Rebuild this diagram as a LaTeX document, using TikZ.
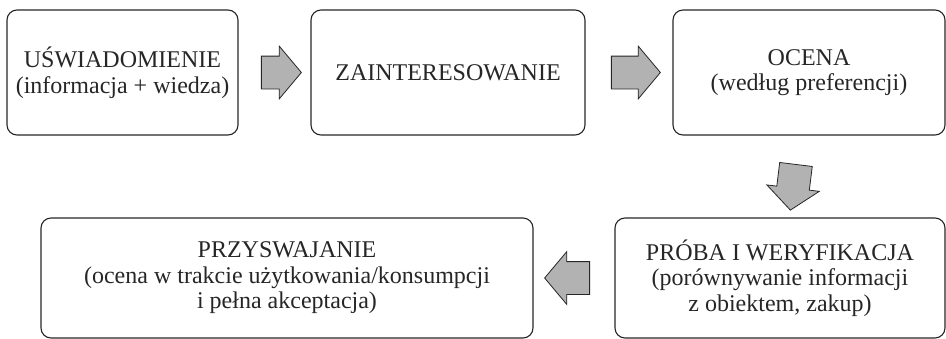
\documentclass[tikz,border=0pt]{standalone}
\usepackage{fontspec}
\setmainfont{Liberation Serif}
\usetikzlibrary{shapes.arrows, calc}
\tikzset{
  stagebox/.style={
    rectangle, rounded corners=10pt,
    minimum width=#1, minimum height=125pt,
    inner sep=0pt, align=center,
    font=\fontsize{24}{25.5}\selectfont,
    draw=black!85, line width=1.1pt, text=black!85
  },
  blockarrow/.style={
    single arrow, minimum height=#1,
    inner xsep=0pt, inner ysep=16pt,
    single arrow head extend=10pt, single arrow tip angle=100,
    draw=black!85, line width=0.8pt, fill=gray!60
  },
}

\begin{document}
\begin{tikzpicture}[x=1pt, y=-1pt]
  \useasboundingbox (0,0) rectangle (946,338);
  % top row
  \node[stagebox=231pt](s1) at (122.5,72.5) {UŚWIADOMIENIE\\(informacja + wiedza)};
  \node[stagebox=274pt](s2) at (448,72.5)   {ZAINTERESOWANIE};
  \node[stagebox=272pt](s3) at (809,72.5)   {OCENA\\(według preferencji)};
  % bottom row
  \node[stagebox=492pt, minimum height=120pt](s4) at (287,278)
        {PRZYSWAJANIE\\(ocena w trakcie użytkowania/konsumpcji\\i pełna akceptacja)};
  \node[stagebox=330pt, minimum height=120pt](s5) at (780,278)
        {PRÓBA I WERYFIKACJA\\(porównywanie informacji\\z obiektem, zakup)};
  % arrows
  \node[blockarrow=40pt](a1) at ($(s1.east)!0.5!(s2.west)$) {};
  \node[blockarrow=49pt](a2) at ($(s2.east)!0.5!(s3.west)$) {};
  \node[blockarrow=46pt, rotate=-97, xshift=4pt](a3) at ($(s3.south)!0.5!(s5.north)$) {};
  \node[blockarrow=45pt, rotate=180](a4) at ($(s5.west)!0.5!(s4.east)$) {};
\end{tikzpicture}
\end{document}
